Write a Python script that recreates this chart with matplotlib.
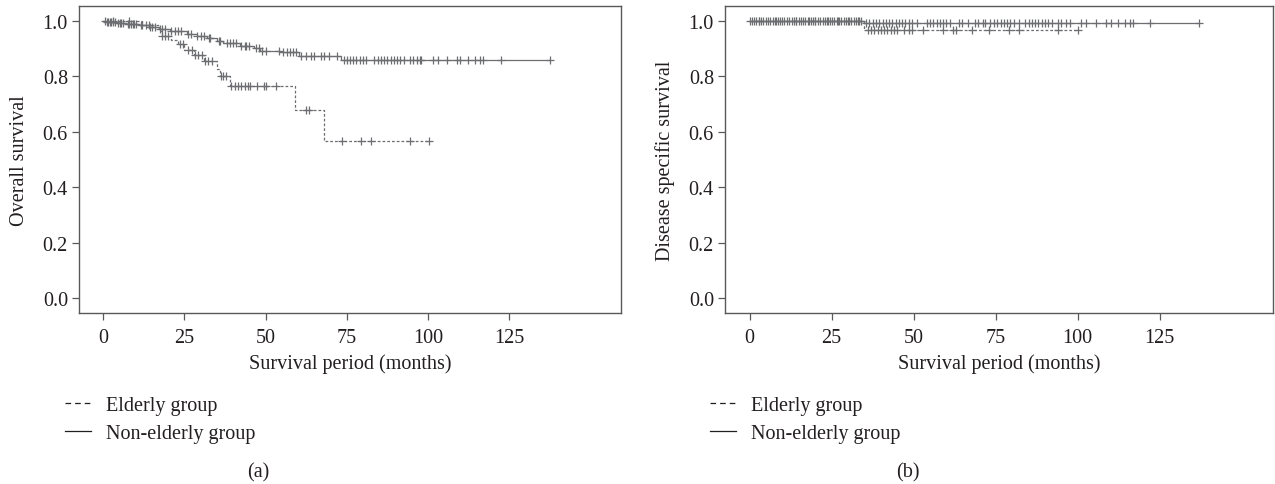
### Kaplan-Meier curves: overall (a) and disease specific (b) survival
import numpy as np
import matplotlib
matplotlib.use("Agg")
import matplotlib.pyplot as plt
from matplotlib.lines import Line2D

plt.rcParams['font.family'] = ['Liberation Serif', 'DejaVu Serif']

### DATA ###
# (a) overall survival - elderly group
os_eld_t = [0, 12, 17, 18, 21, 23, 25, 28, 31, 35, 36, 39, 59, 68]
os_eld_s = [1.0, 0.985, 0.965, 0.947, 0.933, 0.917, 0.896, 0.877, 0.854, 0.827, 0.80, 0.767, 0.68, 0.567]
os_eld_end = 100.4
os_eld_cens = [3, 8, 14, 18, 19, 20, 23.6, 24.4, 26.2, 27.2, 28.3, 29.3, 30.3, 31.4, 32.4, 33.4,
               36.2, 37, 37.8, 39.3, 40.5, 41.5, 42.5, 43.5, 44.5, 45.3, 47.3, 49.4, 50.2, 53.3,
               62.3, 63.3, 73.4, 79.3, 82.4, 94.4, 100.4]

# (a) overall survival - non-elderly group
os_non_t = [0, 1, 4, 7, 11, 14, 17, 20.5, 25.7, 28.8, 31.9, 34.9, 37, 42.2, 46.3, 48.4, 54.5, 60.2, 73.1]
os_non_s = [1.0, 0.997, 0.994, 0.990, 0.986, 0.978, 0.971, 0.963, 0.954, 0.945, 0.938, 0.929,
            0.921, 0.911, 0.901, 0.893, 0.887, 0.875, 0.859]
os_non_end = 137.5
os_non_cens = [0.5, 1, 1.5, 2, 2.5, 3, 3.5, 4.5, 5, 5.5, 6, 7.5, 8, 8.5, 9, 9.5, 10, 11.5, 12, 13,
               14.5, 15, 16, 17.5, 18, 19, 21, 22, 23, 24, 26, 27, 29, 30, 31, 32.5, 33, 35.5, 36,
               38, 39, 40, 41, 42.5, 43.5, 44, 45, 47, 48, 49, 50, 54, 55.5, 56.5, 57.5, 58.5, 59.5,
               61, 62.5, 64, 65, 67, 68, 69.5, 72, 74, 75, 76, 77, 78, 79, 80, 81, 83.5, 84.5, 85.5,
               86.5, 87.5, 88.5, 89.5, 90.5, 91.5, 92.5, 94.5, 95.5, 96.5, 97.5, 98, 101.5, 103, 106,
               109, 110, 112.5, 114.5, 116, 117, 122.5, 137.5]

# (b) disease specific survival - elderly group
dss_eld_t = [0, 35]
dss_eld_s = [1.0, 0.967]
dss_eld_end = 100
dss_eld_cens = [3, 8, 14, 18, 20, 24, 27, 30, 33, 36, 37, 38, 39, 40, 41, 42, 43, 44, 45, 47,
                48.7, 49.6, 52.7, 59, 62, 62.9, 67.9, 73, 79.1, 82.1, 94, 100]

# (b) disease specific survival - non-elderly group
dss_non_t = [0, 35]
dss_non_s = [1.0, 0.994]
dss_non_end = 137
dss_non_cens = [0, 0.7, 1.4, 2, 2.8, 3.5, 4.2, 5, 5.6, 6.3, 7, 7.8, 8.5, 9.2, 10, 10.6, 11.4, 12,
                12.8, 13.5, 14.2, 15, 15.7, 16.4, 17, 17.8, 18.6, 19.3, 20, 20.8, 21.5, 22.3, 23,
                23.6, 24.4, 25, 25.8, 26.5, 27.2, 28, 28.8, 29.5, 30.2, 31, 31.7, 32.4, 33.2, 34,
                35.5, 36.5, 37.5, 38.5, 39.5, 40.5, 41.5, 42.5, 43.5, 44.5, 45.5, 46.5, 47.5, 48.5,
                49.5, 51, 54, 55, 56, 57, 58, 59, 60, 61, 63.8, 64.8, 66.5, 68.6, 69.5, 71, 71.8,
                73.4, 74.5, 75.5, 76.5, 77.5, 78.5, 79.5, 80.5, 82, 84, 85, 86, 87, 88, 89, 90, 91,
                92, 94, 95, 96.5, 97.5, 101, 102.6, 105.6, 108.7, 110, 112.2, 114.3, 115.8, 116.8,
                122, 137]

LINE_COLOR = '#6d6e71'
TEXT_COLOR = '#231f20'
SPINE_COLOR = '#58595b'
FS = 14.5


### PLOT ONE KAPLAN-MEIER CURVE WITH CENSOR MARKS ###
def plot_km(ax, t, s, end, cens, dashed):
    t_ext = np.append(np.asarray(t, float), end)
    s_ext = np.append(np.asarray(s, float), s[-1])
    ls = (0, (2.2, 1.6)) if dashed else '-'
    ax.step(t_ext, s_ext, where='post', color=LINE_COLOR, lw=0.9, linestyle=ls)
    # survival level at each censor time
    idx = np.searchsorted(np.asarray(t, float), cens, side='right') - 1
    cy = np.asarray(s)[idx]
    ax.plot(cens, cy, linestyle='none', marker='+', ms=5.5, mew=0.9, color=LINE_COLOR)


### STYLE ONE PANEL ###
def style_axes(ax, ylabel):
    ax.set_xlim(-7.5, 159.5)
    ax.set_ylim(-0.054, 1.054)
    ax.set_xticks([0, 25, 50, 75, 100, 125])
    ax.set_yticks([0.0, 0.2, 0.4, 0.6, 0.8, 1.0])
    ax.set_yticklabels(['0.0', '0.2', '0.4', '0.6', '0.8', '1.0'])
    for sp in ax.spines.values():
        sp.set_color(SPINE_COLOR)
        sp.set_linewidth(1.0)
    ax.tick_params(direction='out', length=5, width=0.9, color=SPINE_COLOR,
                   labelsize=FS, labelcolor=TEXT_COLOR)
    ax.tick_params(axis='x', pad=6)
    ax.tick_params(axis='y', pad=3)
    ax.set_xlabel('Survival period (months)', fontsize=FS, color=TEXT_COLOR, labelpad=4)
    ax.set_ylabel(ylabel, fontsize=FS, color=TEXT_COLOR, labelpad=10)


fig = plt.figure(figsize=(12.75, 4.85), dpi=100)
ax_a = fig.add_axes([79 / 1275, 1 - 314 / 485, 542 / 1275, 307 / 485])
ax_b = fig.add_axes([725 / 1275, 1 - 314 / 485, 548 / 1275, 307 / 485])

plot_km(ax_a, os_non_t, os_non_s, os_non_end, os_non_cens, dashed=False)
plot_km(ax_a, os_eld_t, os_eld_s, os_eld_end, os_eld_cens, dashed=True)
style_axes(ax_a, 'Overall survival')

plot_km(ax_b, dss_non_t, dss_non_s, dss_non_end, dss_non_cens, dashed=False)
plot_km(ax_b, dss_eld_t, dss_eld_s, dss_eld_end, dss_eld_cens, dashed=True)
style_axes(ax_b, 'Disease specific survival')

### LEGENDS AND PANEL LABELS ###
handles = [Line2D([], [], color='#231f20', lw=0.9, dashes=(4.5, 3.2)),
           Line2D([], [], color='#231f20', lw=0.9)]
labels = ['Elderly group', 'Non-elderly group']
for x0, tag, xc in [(47, '(a)', 258), (692, '(b)', 908)]:
    fig.legend(handles, labels, loc='upper left', bbox_to_anchor=(x0 / 1275, 1 - 379 / 485),
               frameon=False, fontsize=FS, handlelength=1.3, handletextpad=0.75,
               labelspacing=0.45, labelcolor=TEXT_COLOR)
    fig.text(xc / 1275, 1 - 473 / 485, tag, ha='center', va='center', fontsize=FS, color=TEXT_COLOR)

fig.savefig('out.png', dpi=100)
